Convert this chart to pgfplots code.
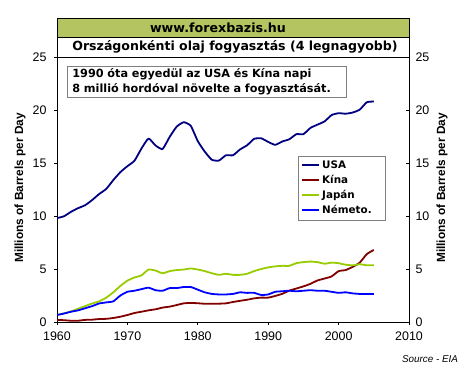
\documentclass[border=0pt]{standalone}
\usepackage{fontspec}
\setmainfont{Liberation Sans}
\newfontfamily\vfont{DejaVu Sans}
\usepackage{pgfplots}
\usepackage{pgfplotstable}
\pgfplotsset{compat=1.18}

\definecolor{usa}{RGB}{0,0,128}
\definecolor{kina}{RGB}{128,0,0}
\definecolor{japan}{RGB}{153,204,0}
\definecolor{nemet}{RGB}{0,0,255}
\definecolor{band}{RGB}{180,196,96}

\pgfplotstableread{
year usa china japan germany
1960 9.80 0.20 0.66 0.66
1961 9.98 0.17 0.82 0.80
1962 10.40 0.12 1.00 0.97
1963 10.74 0.12 1.25 1.10
1964 11.02 0.20 1.50 1.30
1965 11.51 0.22 1.75 1.50
1966 12.08 0.28 1.95 1.75
1967 12.56 0.30 2.30 1.85
1968 13.39 0.38 2.80 1.95
1969 14.14 0.50 3.40 2.50
1970 14.70 0.66 3.90 2.85
1971 15.21 0.85 4.20 2.95
1972 16.37 0.97 4.40 3.10
1973 17.31 1.10 4.95 3.24
1974 16.65 1.20 4.85 3.00
1975 16.32 1.36 4.60 2.95
1976 17.46 1.45 4.80 3.20
1977 18.43 1.60 4.90 3.20
1978 18.85 1.76 4.95 3.30
1979 18.51 1.80 5.05 3.30
1980 17.06 1.77 4.95 3.05
1981 16.06 1.72 4.80 2.80
1982 15.30 1.72 4.60 2.65
1983 15.23 1.73 4.45 2.60
1984 15.73 1.76 4.55 2.60
1985 15.73 1.89 4.45 2.65
1986 16.28 2.00 4.45 2.80
1987 16.67 2.10 4.55 2.75
1988 17.28 2.23 4.80 2.75
1989 17.33 2.30 5.00 2.55
1990 16.99 2.30 5.15 2.60
1991 16.71 2.46 5.25 2.85
1992 17.03 2.66 5.30 2.90
1993 17.24 2.96 5.30 2.95
1994 17.72 3.16 5.55 2.90
1995 17.72 3.36 5.65 2.95
1996 18.31 3.60 5.70 3.00
1997 18.62 3.92 5.65 2.95
1998 18.92 4.10 5.50 2.95
1999 19.52 4.30 5.60 2.85
2000 19.70 4.80 5.55 2.75
2001 19.65 4.90 5.40 2.80
2002 19.76 5.20 5.35 2.70
2003 20.03 5.60 5.45 2.65
2004 20.73 6.40 5.35 2.65
2005 20.80 6.80 5.35 2.65
}\oil

\begin{document}
\begin{tikzpicture}[x=1bp,y=1bp]
\useasboundingbox (0,0) rectangle (463,376);
\begin{axis}[
  at={(57bp,54bp)}, anchor=south west,
  width=352bp, height=265bp, scale only axis,
  xmin=1960, xmax=2010, ymin=0, ymax=25,
  xtick={1960,1970,...,2010}, ytick={0,5,...,25},
  xtick pos=bottom, ytick pos=left,
  tick align=outside, major tick length=3bp,
  tick style={black, line width=0.8bp},
  axis line style={black, line width=0.8bp},
  /pgf/number format/assume math mode=true,
  /pgf/number format/1000 sep={},
  tick label style={font=\fontsize{12.5}{12.5}\selectfont},
  xticklabel style={yshift=-3bp},
  yticklabel style={xshift=-4bp},
  legend style={at={(0.685,0.628)}, anchor=north west, draw=gray,
    font=\vfont\bfseries\fontsize{10.4}{11}\selectfont,
    inner xsep=3bp, inner ysep=3bp, row sep=1.2bp},
  legend cell align=left,
  legend image code/.code={\draw[#1, line width=2bp] (0bp,0bp) -- (9bp,0bp);
    \path (0bp,0bp) -- (17bp,0bp);},
  every axis plot/.append style={line width=1.8bp, line join=round, smooth, tension=0.3},
]
\addplot[usa] table[x=year, y=usa] {\oil};
\addlegendentry{USA}
\addplot[kina] table[x=year, y=china] {\oil};
\addlegendentry{Kína}
\addplot[japan] table[x=year, y=japan] {\oil};
\addlegendentry{Japán}
\addplot[nemet] table[x=year, y=germany] {\oil};
\addlegendentry{\makebox[58bp][l]{Németo.}}
\end{axis}
\begin{axis}[
  at={(57bp,54bp)}, anchor=south west,
  width=352bp, height=265bp, scale only axis,
  xmin=1960, xmax=2010, ymin=0, ymax=25,
  hide x axis, axis y line*=right,
  ytick={0,5,...,25},
  tick align=inside, major tick length=3bp,
  tick style={black, line width=0.8bp},
  axis line style={black, line width=0.8bp},
  /pgf/number format/assume math mode=true,
  tick label style={font=\fontsize{12.5}{12.5}\selectfont},
  yticklabel style={xshift=3bp},
]
\addplot[draw=none] coordinates {(1960,0)};
\end{axis}
% title bands
\fill[band] (57,339) rectangle (409,358);
\draw[black, line width=0.8bp] (57,319) rectangle (409,358);
\draw[black, line width=0.8bp] (57,339) -- (409,339);
\node[font=\vfont\bfseries\fontsize{12.7}{14}\selectfont] at (218,348.5) {www.forexbazis.hu};
\node[font=\vfont\bfseries\fontsize{12.6}{14}\selectfont] at (235,329) {Országonkénti olaj fogyasztás (4 legnagyobb)};
% annotation
\node[draw=gray, line width=0.8bp, fill=white, anchor=north west, align=left,
      text width=269bp, inner xsep=5bp, inner ysep=2.5bp,
      font=\vfont\bfseries\fontsize{11.3}{15}\selectfont] at (67,310)
  {\mbox{1990 óta egyedül az USA és Kína napi}\\\mbox{8 millió hordóval növelte a fogyasztását.}};
% axis titles
\node[rotate=90, font=\bfseries\fontsize{11.9}{12}\selectfont] at (20,188) {Millions of Barrels per Day};
\node[rotate=90, font=\bfseries\fontsize{11.9}{12}\selectfont] at (442,188) {Millions of Barrels per Day};
\node[font=\itshape\fontsize{9.9}{10}\selectfont] at (430,17) {Source - EIA};
\end{tikzpicture}
\end{document}
